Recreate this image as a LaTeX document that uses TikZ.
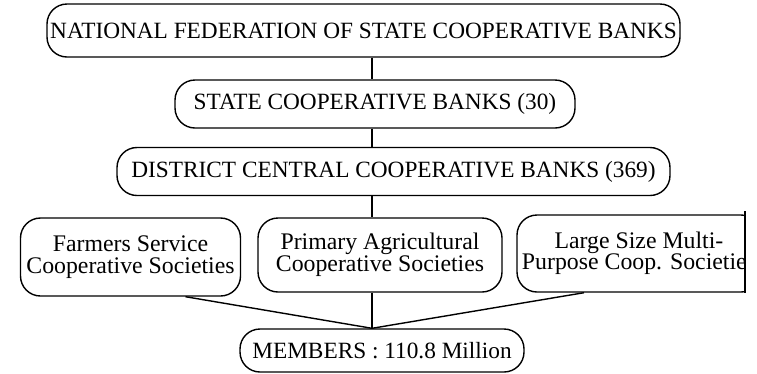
\documentclass[tikz,border=0pt]{standalone}
\usepackage{fontspec}
\setmainfont{Liberation Serif}
\usetikzlibrary{positioning,calc}

\begin{document}
\begin{tikzpicture}[x=1pt,y=-1pt,
    bank/.style={draw, line width=1.4pt, rounded corners=20pt, inner sep=0pt,
        font=\fontsize{23.3}{21.5}\selectfont, align=center},
    society/.style={bank, font=\fontsize{23.8}{21.5}\selectfont},
    link/.style={line width=1.4pt}]
    \useasboundingbox (0,0) rectangle (757,373);

    % Upper levels
    \node[bank, minimum width=633pt, minimum height=53pt] (nfscb) at (363.5,30.5)
        {NATIONAL FEDERATION OF STATE COOPERATIVE BANKS};
    \node[bank, minimum width=400pt, minimum height=48pt] (scb) at (375,104)
        {STATE COOPERATIVE BANKS (30)};
    \node[bank, minimum width=553pt, minimum height=48pt] (dccb) at (393.5,171.5)
        {DISTRICT CENTRAL COOPERATIVE BANKS (369)};

    % Societies
    \node[society, minimum width=220pt, minimum height=78pt] (fscs) at (130.5,257)
        {Farmers Service\\Cooperative Societies};
    \node[society, minimum width=244pt, minimum height=74pt] (pacs) at (380,255)
        {Primary Agricultural\\Cooperative Societies};
    \begin{scope}
        \clip (0,0) rectangle (745,373);
        \node[society, minimum width=244pt, minimum height=77pt] (lamps) at (639,253.5)
            {Large Size Multi-\\Purpose Coop. Societies};
    \end{scope}
    \coordinate (cut) at (745,0);
    \draw[link] ($(lamps.north -| cut)+(0,-3)$) -- (lamps.south -| cut);

    % Members
    \node[bank, minimum width=284pt, minimum height=43pt] (members) at (382,350.5)
        {MEMBERS : 110.8 Million};

    % Connectors
    \coordinate (jn) at ($(members.north)+(-10,0)$);
    \draw[link] (nfscb.south -| jn) -- (scb.north -| jn);
    \draw[link] (scb.south -| jn) -- (dccb.north -| jn);
    \draw[link] (dccb.south -| jn) -- (pacs.north -| jn);
    \draw[link] (pacs.south -| jn) -- (jn);
    \draw[link] ($(fscs.south)+(55,0)$) -- (jn);
    \draw[link] ($(lamps.south)+(-55,0)$) -- (jn);
\end{tikzpicture}
\end{document}
